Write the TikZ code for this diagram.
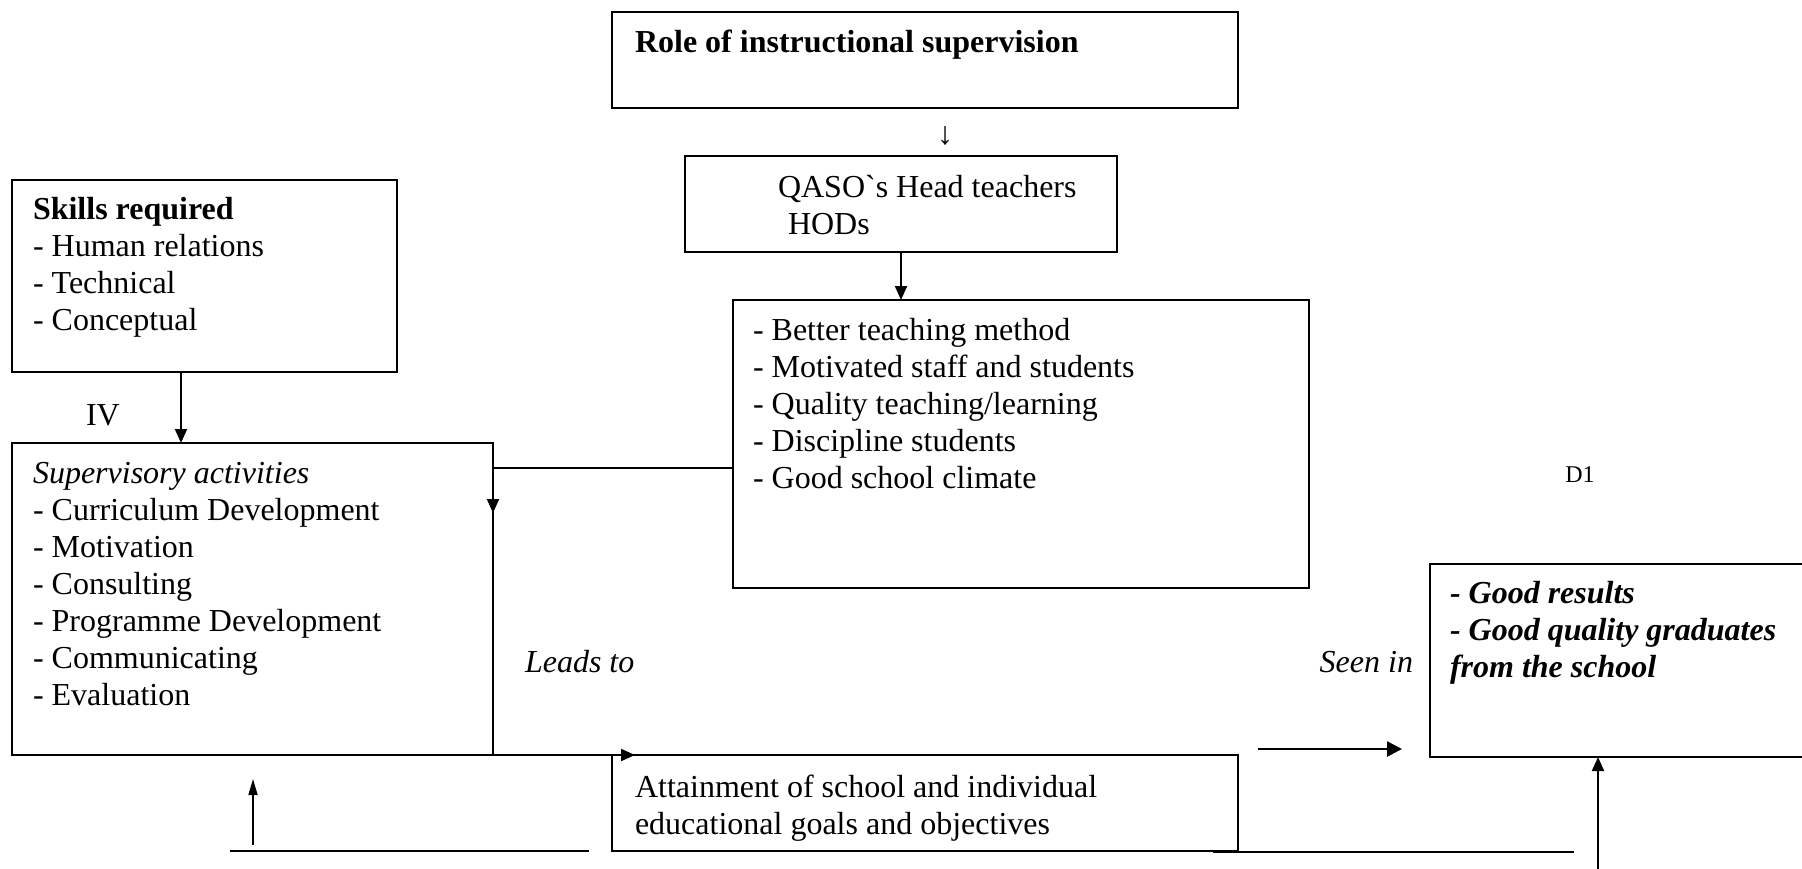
\documentclass[tikz,border=0pt]{standalone}
\usepackage{fontspec}
\setmainfont{Liberation Serif}[Ligatures=TeXOff]
\usetikzlibrary{arrows.meta}
\begin{document}
\begin{tikzpicture}[x=0.5pt,y=-0.5pt,
  box/.style={draw, line width=1pt, inner sep=0pt, outer sep=0pt, anchor=north west},
  txt/.style={anchor=base west, inner sep=0pt, outer sep=0pt, font=\fontsize{16}{18.4}\selectfont},
  txtb/.style={txt, font=\fontsize{16}{18.4}\selectfont\bfseries},
  txti/.style={txt, font=\fontsize{16}{18.4}\selectfont\itshape},
  txtbi/.style={txt, font=\fontsize{16}{18.4}\selectfont\bfseries\itshape},
  conn/.style={line width=1pt},
  arr/.style={line width=1pt, -{Triangle[length=7pt,width=6pt]}},
  thinarr/.style={line width=0.8pt, -{Triangle[length=8pt,width=4.5pt]}},
  boldarr/.style={line width=1.3pt, -{Triangle[length=7.5pt,width=7.5pt]}},
]
\useasboundingbox (0,0) rectangle (1802,868);

% boxes
\node[box, minimum width=313pt, minimum height=48pt] (role) at (612,12) {};
\node[box, minimum width=216pt, minimum height=48pt] (qaso) at (685,156) {};
\node[box, minimum width=288pt, minimum height=144pt] (outc) at (733,300) {};
\node[box, minimum width=192.5pt, minimum height=96pt] (skills) at (12,180) {};
\node[box, minimum width=240.5pt, minimum height=156pt] (sup) at (12,443) {};
\node[box, minimum width=313pt, minimum height=48pt] (attain) at (612,755) {};
\node[box, minimum width=200pt, minimum height=96.5pt] (result) at (1430,564) {};

% texts
\node[txtb] (roleT) at (635,52) {Role of instructional supervision};
\node[anchor=base, inner sep=0pt, font=\fontsize{16}{18.4}\selectfont] (darr) at (945,144) {↓};
\node[txt] (q1) at (778,197) {QASO\symbol{96}s Head teachers};
\node[txt] (q2) at (788,234) {HODs};

\node[txt] (o1) at (753,340) {- Better teaching method};
\node[txt] (o2) at (753,377) {- Motivated staff and students};
\node[txt] (o3) at (753,414) {- Quality teaching/learning};
\node[txt] (o4) at (753,451) {- Discipline students};
\node[txt] (o5) at (753,488) {- Good school climate};

\node[txtb] (k0) at (33,219) {Skills required};
\node[txt] (k1) at (33,256) {- Human relations};
\node[txt] (k2) at (33,293) {- Technical};
\node[txt] (k3) at (33,330) {- Conceptual};

\node[txt] (iv) at (86,425) {IV};

\node[txti] (s0) at (33,483) {Supervisory activities};
\node[txt] (s1) at (33,520) {- Curriculum Development};
\node[txt] (s2) at (33,557) {- Motivation};
\node[txt] (s3) at (33,594) {- Consulting};
\node[txt] (s4) at (33,631) {- Programme Development};
\node[txt] (s5) at (33,668) {- Communicating};
\node[txt] (s6) at (33,705) {- Evaluation};

\node[txti] (leads) at (525,672) {Leads to};
\node[txti, anchor=base east] (seen) at (1413,672) {Seen in};

\node[txtbi] (r1) at (1450,603) {- Good results};
\node[txtbi] (r2) at (1450,640) {- Good quality graduates};
\node[txtbi] (r3) at (1450,677) {from the school};

\node[anchor=base, inner sep=0pt, font=\fontsize{12}{14}\selectfont] (d1) at (1580,482) {D1};

\node[txt] (a1) at (635,797) {Attainment of school and individual};
\node[txt] (a2) at (635,834) {educational goals and objectives};

% connector coordinates
\coordinate (skA) at (181,372);
\coordinate (ocA) at (733,468);
\coordinate (ocB) at (493,468);
\coordinate (ocC) at (493,513);
\coordinate (atA) at (635,755);
\coordinate (blA) at (230,851);
\coordinate (blB) at (589,851);
\coordinate (upA) at (253,845);
\coordinate (upB) at (253,779);
\coordinate (brA) at (1213,852);
\coordinate (brB) at (1574,852);
\coordinate (ruA) at (1598,870);
\coordinate (ruB) at (1598,757);
\coordinate (siA) at (1258,749);
\coordinate (siB) at (1402,749);

% connectors
\draw[arr] (qaso.south) -- (qaso.south |- outc.north);
\draw[arr] (skA) -- (skA |- sup.north);
\draw[conn] (ocA) -- (ocB);
\draw[arr] (ocB) -- (ocC);
\draw[arr] (sup.south east) -- (atA);
\draw[conn] (blA) -- (blB);
\draw[thinarr] (upA) -- (upB);
\draw[conn] (brA) -- (brB);
\draw[arr] (ruA) -- (ruB);
\draw[boldarr] (siA) -- (siB);
\end{tikzpicture}
\end{document}
